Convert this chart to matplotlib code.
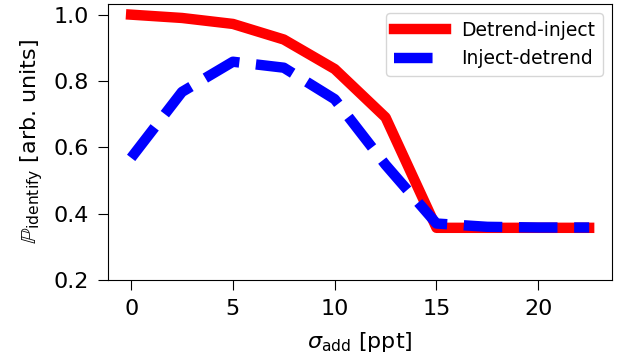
import numpy as np
import matplotlib.pyplot as plt

plt.rcParams['font.family'] = ['DejaVu Sans']
plt.rcParams['mathtext.fontset'] = 'dejavusans'

# added noise levels and identification probability for each ordering
sigma_add = [0.0, 2.5, 5.0, 7.5, 10.0, 12.5, 15.0, 17.5, 20.0, 22.5]
p_detrend_inject = [1.0, 0.99, 0.972, 0.925, 0.836, 0.69, 0.357, 0.357, 0.357, 0.357]
p_inject_detrend = [0.568, 0.767, 0.858, 0.84, 0.745, 0.547, 0.37, 0.36, 0.358, 0.358]

fig, ax = plt.subplots(figsize=(6.22, 3.63), dpi=100)
fig.subplots_adjust(left=0.174, right=0.984, top=0.989, bottom=0.229)

ax.plot(sigma_add, p_detrend_inject, color='red', lw=7.5, label='Detrend-inject')
ax.plot(sigma_add, p_inject_detrend, color='blue', lw=7.5, ls='--', label='Inject-detrend')

ax.set_ylim(bottom=0.2)
ax.set_xticks([0, 5, 10, 15, 20])
ax.set_yticks([0.2, 0.4, 0.6, 0.8, 1.0])
ax.tick_params(labelsize=16, length=7, pad=7)

ax.set_xlabel(r'$\sigma_{\mathrm{add}}$ [ppt]', fontsize=16, labelpad=8)
ax.set_ylabel(r'$\mathbb{P}_{\mathrm{identify}}$ [arb. units]', fontsize=16, labelpad=6)

ax.legend(fontsize=13.5, loc='upper right', handlelength=2.8)

plt.savefig('out.png')
